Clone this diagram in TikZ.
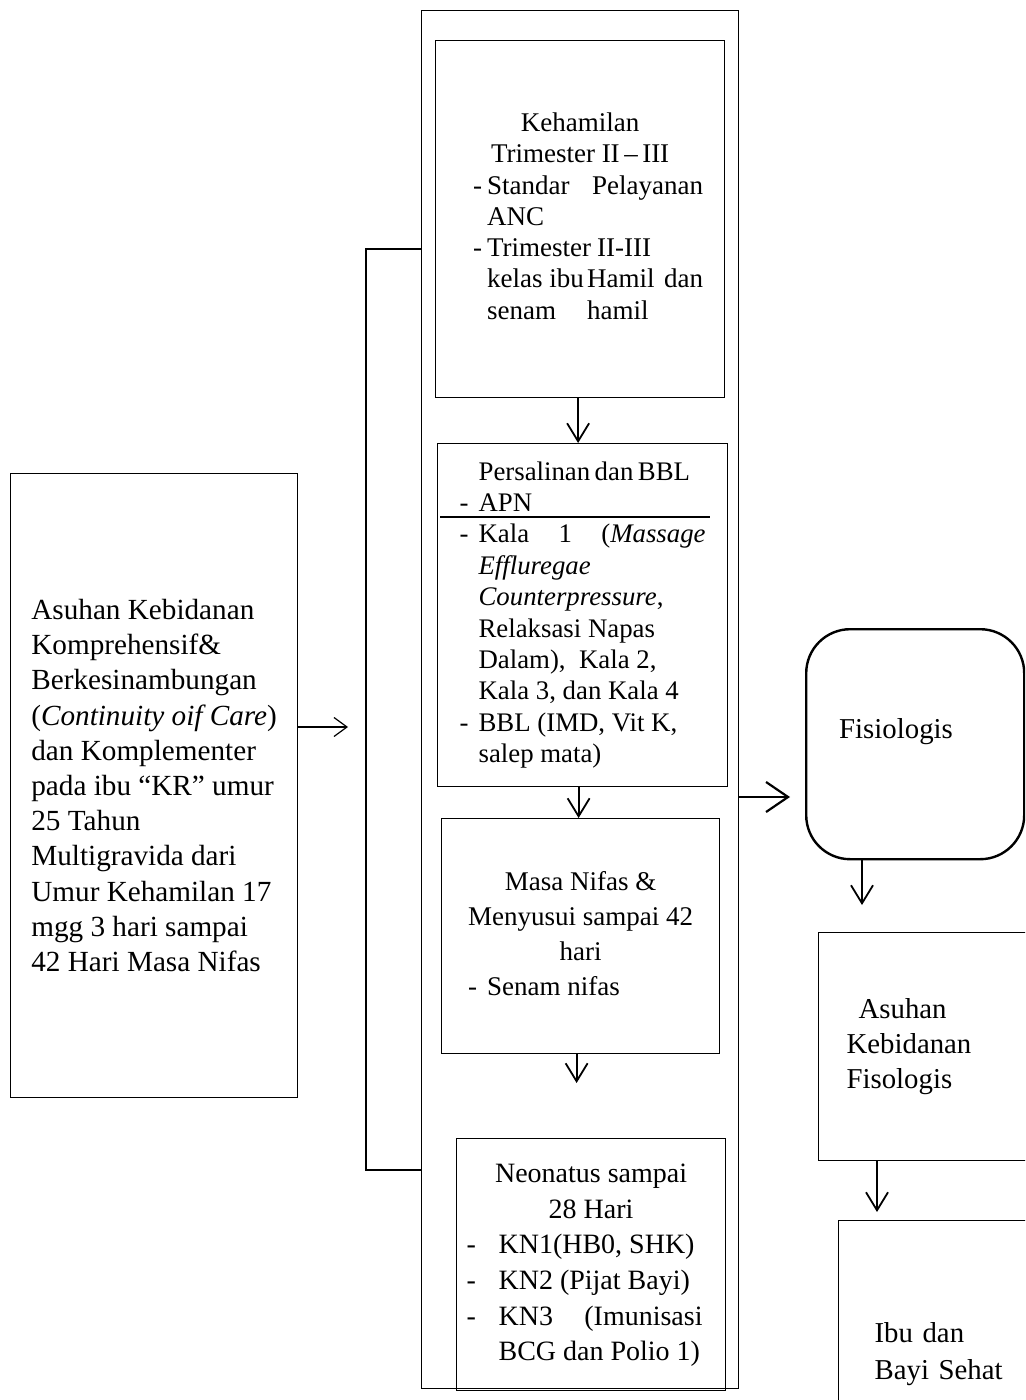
\documentclass[tikz,border=0pt]{standalone}
\usepackage{fontspec}
\setmainfont{Liberation Serif}
\usetikzlibrary{arrows.meta}

\newcommand{\spread}[1]{\makebox[\linewidth][s]{#1}}

\begin{document}
\begin{tikzpicture}[
	x=0.5pt, y=-0.5pt,
	every node/.style={rectangle, anchor=north west, inner sep=0pt},
	box/.style={draw, line width=0.6pt},
	roundbox/.style={draw, line width=1.2pt, rounded corners=22pt},
	arrow/.style={-{Straight Barb[length=9pt, width=11pt]}, line width=0.9pt},
	smallarrow/.style={-{Straight Barb[length=6.5pt, width=9.5pt]}, line width=0.6pt},
	bigarrow/.style={-{Straight Barb[length=11pt, width=15pt]}, line width=1.1pt}
	]
	\useasboundingbox (0,0) rectangle (1025,1400);
	\clip (0,0) rectangle (1025,1400);

	% Nodes
	\node (outer) [box, line width=0.7pt, minimum width=158.5pt, minimum height=689pt] at (421,10) {};

	\node (asuhan) [box, minimum width=143.5pt, minimum height=312pt, align=left,
		font=\fontsize{14.6}{17.6}\selectfont] at (10,473)
		{Asuhan Kebidanan\\ Komprehensif\&\\ Berkesinambungan\\ (\textit{Continuity oif Care})\\
		dan Komplementer\\ pada ibu “KR” umur\\ 25 Tahun\\ Multigravida dari\\
		Umur Kehamilan 17\\ mgg 3 hari sampai\\ 42 Hari Masa Nifas};

	\node (kehamilan) [box, minimum width=144.5pt, minimum height=178.5pt,
		font=\fontsize{13.5}{15.65}\selectfont] at (435,40) {%
		\begin{tabular}{@{\hspace{8pt}}p{7pt}@{}p{108pt}@{}}
			\multicolumn{2}{@{}c@{}}{Kehamilan}\\
			\multicolumn{2}{@{}c@{}}{Trimester II\,–\,III}\\
			- & \spread{Standar\hfill Pelayanan}\\
			  & ANC\\
			- & \makebox[55pt][l]{Trimester}II-III\\
			  & \spread{\makebox[50pt][l]{kelas ibu}Hamil\hfill dan}\\
			  & \makebox[50pt][l]{senam}hamil
		\end{tabular}};

	\node (persalinan) [box, minimum width=145pt, minimum height=171.5pt,
		font=\fontsize{13.4}{15.7}\selectfont] at (437,443) {%
		\begin{tabular}{@{}p{9.5pt}@{}p{113.5pt}@{}}
			  & \makebox[101pt][s]{Persalinan dan BBL}\\
			- & APN\\
			- & \spread{Kala\hfill 1\hfill (\textit{Massage}}\\
			  & \textit{Effluregae}\\
			  & \textit{Counterpressure},\\
			  & Relaksasi Napas\\
			  & Dalam),\ \ Kala 2,\\
			  & Kala 3, dan Kala 4\\
			- & BBL (IMD, Vit K,\\
			  & salep mata)
		\end{tabular}};

	\node (nifas) [box, minimum width=139pt, minimum height=117.5pt,
		font=\fontsize{13.5}{17.5}\selectfont] at (441,818) {%
		\begin{tabular}{@{}p{9.5pt}@{}l@{}}
			\multicolumn{2}{@{}c@{}}{Masa Nifas \&}\\
			\multicolumn{2}{@{}c@{}}{Menyusui sampai 42}\\
			\multicolumn{2}{@{}c@{}}{hari}\\
			- & Senam nifas
		\end{tabular}};

	\node (neonatus) [box, minimum width=134.5pt, minimum height=126pt,
		font=\fontsize{14}{17.8}\selectfont] at (456,1138) {%
		\begin{tabular}{@{}p{16pt}@{}p{102pt}@{\hspace{6.5pt}}}
			\multicolumn{2}{@{}c@{}}{Neonatus sampai}\\
			\multicolumn{2}{@{}c@{}}{28 Hari}\\
			- & KN1(HB0, SHK)\\
			- & KN2 (Pijat Bayi)\\
			- & \spread{KN3\hfill(Imunisasi}\\
			  & BCG dan Polio 1)
		\end{tabular}};

	\node (fisiologis) [roundbox, minimum width=109pt, minimum height=115pt, inner xsep=16.5pt,
		text width=76pt, align=left, text height=10pt, text depth=15.5pt,
		font=\fontsize{14.4}{17.5}\selectfont] at (805,628) {Fisiologis};

	\node (askeb) [box, minimum width=115pt, minimum height=114pt, inner xsep=14pt,
		text width=87pt, align=left, font=\fontsize{14.4}{17.5}\selectfont] at (818,932)
		{\hspace*{6pt}Asuhan\\ Kebidanan\\ Fisologis};

	\node (sehat) [box, minimum width=110pt, minimum height=133pt, inner xsep=18pt,
		text width=74pt, align=left, font=\fontsize{14.4}{18.5}\selectfont] at (838,1220)
		{Ibu dan\\ Bayi Sehat};

	% Free ends
	\coordinate (colin) at (348,727);
	\coordinate (fisin) at (790,797);
	\coordinate (nifasend) at (578,1083);
	\coordinate (fisend) at (862,905);
	\coordinate (askebend) at (877,1212);
	\coordinate (brtop) at (421,249);
	\coordinate (brbot) at (421,1170);

	% Connections
	\draw [line width=0.6pt] (brtop) -- ++(-55,0) |- (brbot);
	\draw [smallarrow] (asuhan.east |- colin) -- (colin);
	\draw [arrow] ([xshift=-1pt]kehamilan.south) -- ([xshift=-1pt]kehamilan.south |- persalinan.north);
	\draw [line width=0.9pt] ([shift={(3,74)}]persalinan.north west) -- ++(270,0);
	\draw [arrow] ([xshift=-2pt]persalinan.south) -- ([xshift=-2pt]persalinan.south |- nifas.north);
	\draw [arrow] ([xshift=-2pt]nifas.south) -- ([xshift=-2pt]nifas.south |- nifasend);
	\draw [bigarrow] (outer.east |- fisin) -- (fisin);
	\draw [arrow] (fisend |- fisiologis.south) -- (fisend);
	\draw [arrow] (askebend |- askeb.south) -- (askebend);

\end{tikzpicture}
\end{document}
